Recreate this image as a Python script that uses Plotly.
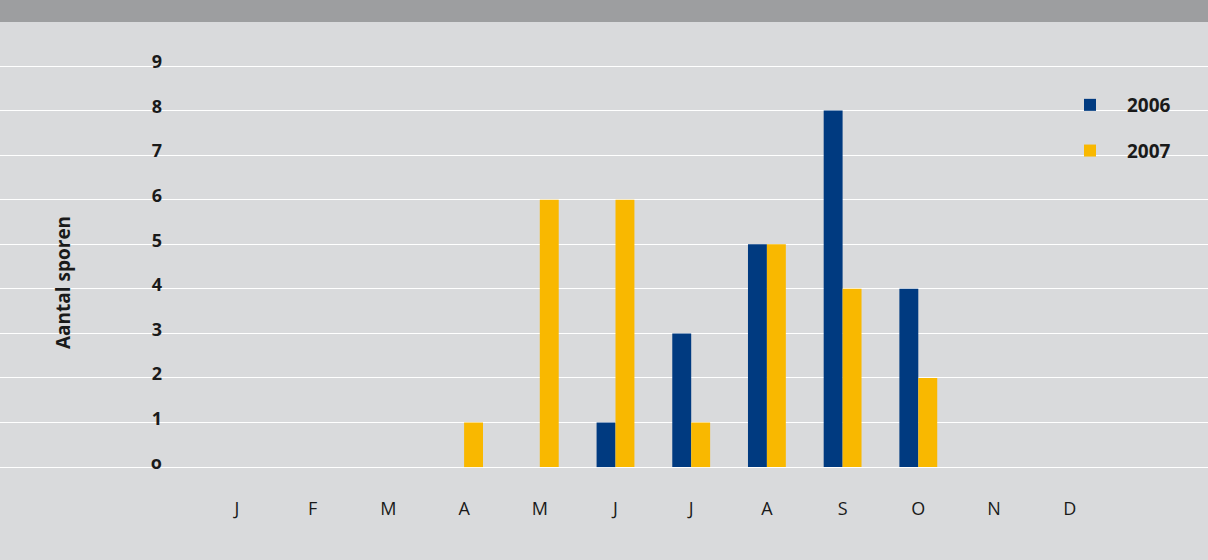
import plotly.graph_objects as go

months = ["jan", "feb", "mrt", "apr", "mei", "jun", "jul", "aug", "sep", "okt", "nov", "dec"]
month_labels = ["J", "F", "M", "A", "M", "J", "J", "A", "S", "O", "N", "D"]
sporen_2006 = [0, 0, 0, 0, 0, 1, 3, 5, 8, 4, 0, 0]
sporen_2007 = [0, 0, 0, 1, 6, 6, 1, 5, 4, 2, 0, 0]
y_ticks = [0, 1, 2, 3, 4, 5, 6, 7, 8, 9]
y_ticktext = ["o", "1", "2", "3", "4", "5", "6", "7", "8", "9"]

BLUE = "#003a80"
YELLOW = "#f9b800"
BG = "#d9dadc"
BAND = "#9d9ea0"
FONT = "Open Sans"

W, H = 1208, 560
top, bottom = 25, 476

fig = go.Figure()
fig.add_trace(go.Bar(x=months, y=sporen_2006, name="2006", marker_color=BLUE,
                     marker_line_width=0, legendgroup="a"))
fig.add_trace(go.Bar(x=months, y=sporen_2007, name="2007", marker_color=YELLOW,
                     marker_line_width=0, legendgroup="b"))

fig.update_layout(
    width=W, height=H,
    margin=dict(l=0, r=0, t=top, b=H - bottom, pad=0),
    paper_bgcolor=BG, plot_bgcolor=BG,
    barmode="group", bargap=0.5, bargroupgap=0,
    font=dict(family=FONT, color="#1a1a1a"),
    showlegend=True,
    legend=dict(x=1053 / W, xanchor="left", y=(bottom - 86) / (bottom - top), yanchor="top",
                bgcolor="rgba(0,0,0,0)", font=dict(size=19, family=FONT, weight="bold"),
                tracegroupgap=18, traceorder="grouped", itemwidth=64),
)

fig.update_xaxes(
    type="category", categoryorder="array", categoryarray=months,
    tickvals=months, ticktext=month_labels,
    range=[-237 / 75.7, (W - 237) / 75.7],
    showgrid=False, zeroline=False, showline=False,
    ticks="outside", ticklen=16, tickcolor="rgba(0,0,0,0)",
    tickfont=dict(size=18, family=FONT, color="#1a1a1a"),
)

fig.update_yaxes(
    range=[-0.2, 9.92],
    tickvals=y_ticks, ticktext=y_ticktext,
    showgrid=True, gridcolor="#ffffff", gridwidth=1,
    zeroline=False, showline=False, ticks="",
    anchor="free", position=162 / W,
    ticklabelshift=-4,
    tickfont=dict(size=18, family=FONT, weight="bold", color="#1a1a1a"),
)

fig.add_annotation(
    text="<b>Aantal sporen</b>", textangle=-90,
    x=63 / W, y=(bottom - 283) / (bottom - top), xref="paper", yref="paper",
    xanchor="center", yanchor="middle", showarrow=False,
    font=dict(size=19, family=FONT, color="#1a1a1a"),
)

fig.add_shape(
    type="rect", xref="paper", yref="paper",
    x0=0, x1=1, y0=(bottom - 22) / (bottom - top), y1=(bottom + 2) / (bottom - top),
    fillcolor=BAND, line_width=0, layer="above",
)

fig.write_html("out.html", config={"displayModeBar": False},
               post_script="document.body.style.margin='0px';")
